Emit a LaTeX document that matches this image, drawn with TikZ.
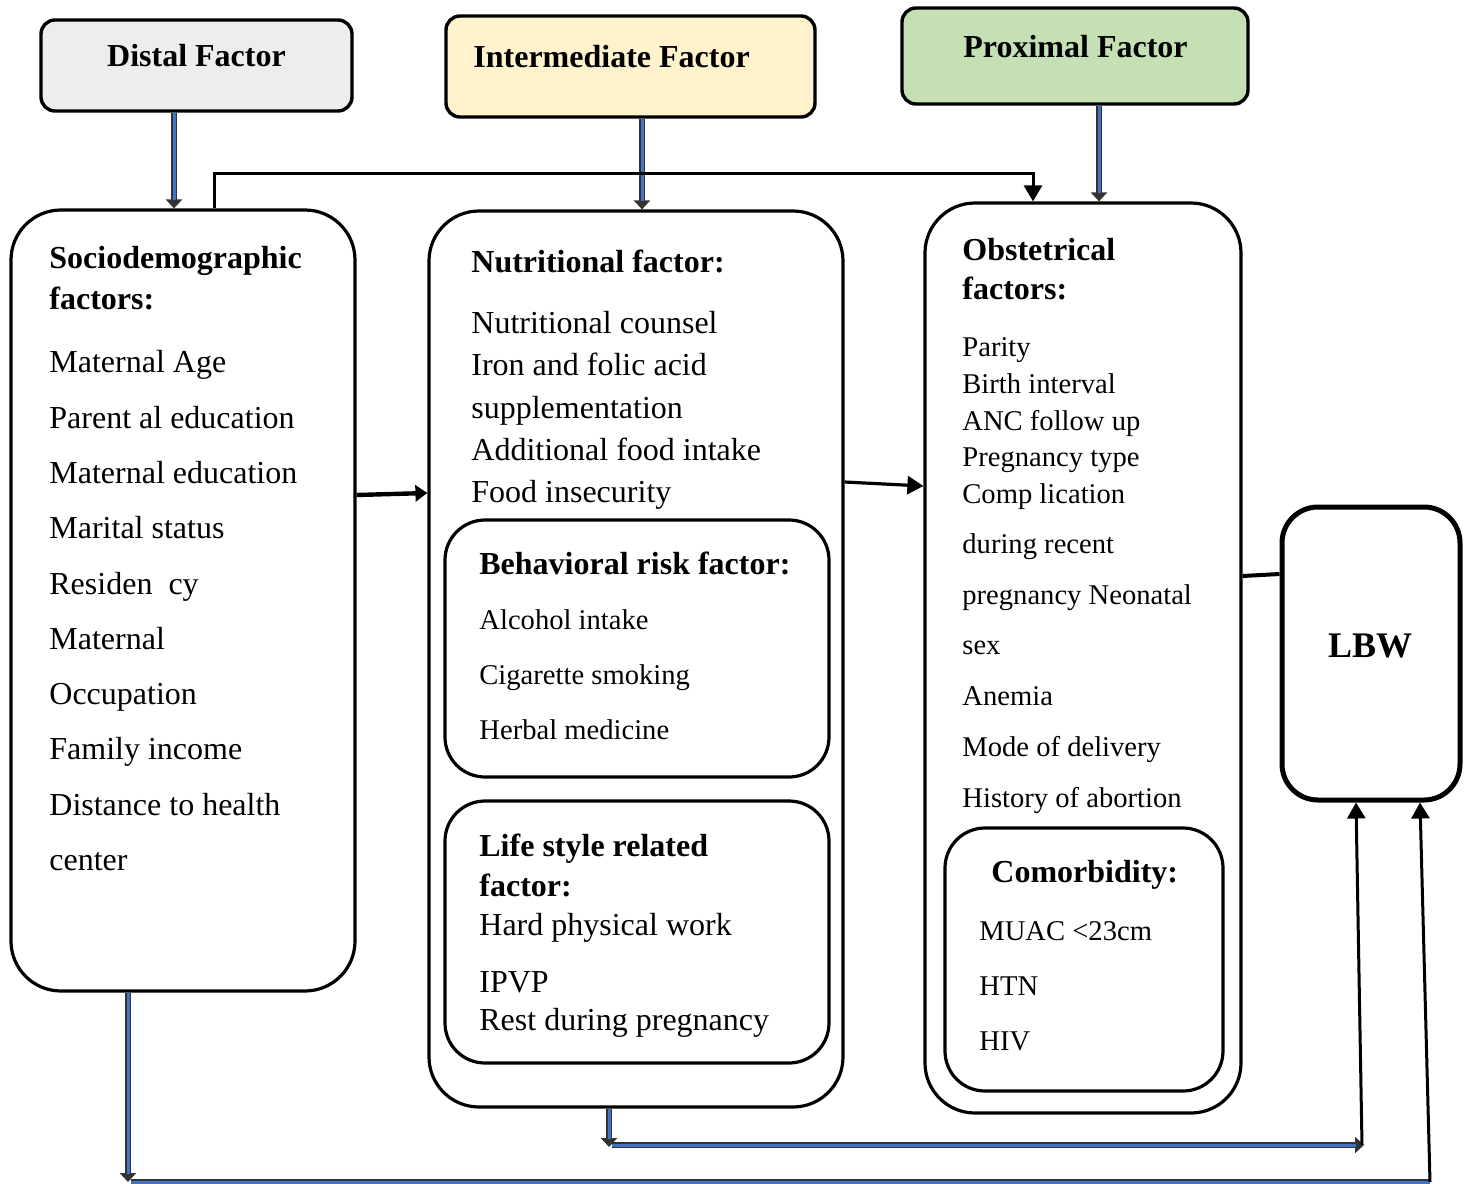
\documentclass[tikz,border=0pt]{standalone}
\usepackage{fontspec}
\setmainfont{Liberation Serif}
\usetikzlibrary{arrows.meta}
\definecolor{cblue}{HTML}{4472C4}
\definecolor{cgray}{HTML}{EDEDED}
\definecolor{cyellow}{HTML}{FFF2CC}
\definecolor{cgreen}{HTML}{C5E0B4}
\begin{document}
\begin{tikzpicture}[x=0.5pt,y=-0.5pt,
 topbox/.style={draw, line width=1.7pt, rounded corners=7pt, inner sep=0pt},
 bigbox/.style={draw, line width=1.6pt, rounded corners=25pt, inner sep=0pt},
 inbox/.style={draw, line width=1.6pt, rounded corners=20pt, inner sep=0pt},
 txt/.style={anchor=base west, inner sep=0pt, font=\fontsize{16}{19}\selectfont},
 stxt/.style={anchor=base west, inner sep=0pt, font=\fontsize{14.3}{17}\selectfont},
 htxt/.style={anchor=base west, inner sep=0pt, font=\fontsize{16}{19}\selectfont\bfseries},
 bconn/.style={draw=cblue, line width=1.5pt, shorten >=4pt,
   preaction={draw=black!80, line width=3pt, shorten >=0pt, -{Triangle[width=8pt,length=4.5pt]}}},
 bline/.style={draw=cblue, line width=1.5pt,
   preaction={draw=black!80, line width=3pt}},
 kconn/.style={draw=black, line width=1.6pt, -{Triangle[width=9pt,length=8pt]}},
]
\useasboundingbox (0,0) rectangle (1468,1184);

% top factor boxes
\node[topbox, fill=cgray, minimum width=155.5pt, minimum height=45.5pt] (distal) at (196.5,65.5) {};
\node[htxt, anchor=center] (distalt) at (196.5,56) {Distal Factor};
\node[topbox, fill=cyellow, minimum width=184.5pt, minimum height=50.5pt] (inter) at (630.5,66.5) {};
\node[htxt, anchor=base west] (intert) at (473,67) {Intermediate Factor};
\node[topbox, fill=cgreen, minimum width=173pt, minimum height=48pt] (prox) at (1075,56) {};
\node[htxt, anchor=base west] (proxt) at (963,57) {Proximal Factor};

% main boxes
\node[bigbox, minimum width=172pt, minimum height=390.5pt] (soc) at (183,600.5) {};
\node[bigbox, minimum width=207pt, minimum height=448pt] (mid) at (636,659) {};
\node[inbox, minimum width=192pt, minimum height=128.5pt] (beh) at (637,648.5) {};
\node[inbox, minimum width=192pt, minimum height=131pt] (life) at (637,932) {};
\node[bigbox, minimum width=158pt, minimum height=455pt] (obs) at (1083,658) {};
\node[inbox, minimum width=139pt, minimum height=131.5pt] (com) at (1084,959.5) {};
\node[draw, line width=2.5pt, rounded corners=18pt, minimum width=89pt, minimum height=146.5pt] (lbw) at (1371,653.5) {};
\node[anchor=center, inner sep=0pt, font=\fontsize{18}{21}\selectfont\bfseries] (lbwt) at (1370,646) {LBW};

% sociodemographic text
\node[htxt] (sh1) at (49,268) {Sociodemographic};
\node[htxt] (sh2) at (49,309) {factors:};
\foreach \yy/\tt [count=\i] in {372/Maternal Age, 428/Parent al education, 483/Maternal education,
  538/Marital status, 594/Residen\ \ cy, 649/Maternal, 704/Occupation, 759/Family income,
  815/Distance to health, 870/center}
  \node[txt] (s\i) at (49,\yy) {\tt};

% nutritional
\node[htxt] (nh) at (471,272) {Nutritional factor:};
\foreach \yy/\tt [count=\i] in {333/Nutritional counsel, 375/Iron and folic acid, 418/supplementation,
  460/Additional food intake, 502/Food insecurity}
  \node[txt] (n\i) at (471,\yy) {\tt};

% behavioral
\node[htxt] (bh) at (479,574) {Behavioral risk factor:};
\foreach \yy/\tt [count=\i] in {629/Alcohol intake, 684/Cigarette smoking, 739/Herbal medicine}
  \node[stxt] (b\i) at (479,\yy) {\tt};

% life style
\node[htxt] (lh1) at (479,856) {Life style related};
\node[htxt] (lh2) at (479,896) {factor:};
\foreach \yy/\tt [count=\i] in {935/Hard physical work, 992/IPVP, 1030/Rest during pregnancy}
  \node[txt] (l\i) at (479,\yy) {\tt};

% obstetrical
\node[htxt] (oh1) at (962,260) {Obstetrical};
\node[htxt] (oh2) at (962,299) {factors:};
\foreach \yy/\tt [count=\i] in {356/Parity, 393/Birth interval, 430/ANC follow up, 466/Pregnancy type,
  503/Comp lication, 553/during recent, 604/pregnancy Neonatal, 654/sex, 705/Anemia,
  756/Mode of delivery, 807/History of abortion}
  \node[stxt] (o\i) at (962,\yy) {\tt};

% comorbidity
\node[htxt] (ch) at (991,882) {Comorbidity:};
\foreach \yy/\tt [count=\i] in {940/MUAC <23cm, 995/HTN, 1050/HIV}
  \node[stxt] (c\i) at (979,\yy) {\tt};

% blue connectors from top boxes
\draw[bconn] (174,0 |- distal.south) -- (174,0 |- soc.north);
\draw[bconn] (642,0 |- inter.south) -- (642,0 |- mid.north);
\draw[bconn] (1099,0 |- prox.south) -- (1099,0 |- obs.north);

% black connector over the top
\draw[draw=black, line width=1.5pt, -{Triangle[width=9pt,length=8pt]}]
  (214,0 |- soc.north) -- (214,173) -- (1033,173) -- (1033,0 |- obs.north);

% horizontal connectors between boxes
\draw[draw=black, line width=2.2pt, -{Triangle[width=8pt,length=6pt]}] (soc.east |- 0,495) -- (mid.west |- 0,493);
\draw[kconn] (mid.east |- 0,482) -- (obs.west |- 0,486);
\draw[draw=black, line width=2pt] (obs.east |- 0,576) -- (lbw.west |- 0,574);

% bottom connectors
\coordinate (m1) at (609,1147);
\coordinate (m2) at (612,1145);
\coordinate (m3) at (1364,1145);
\coordinate (s1) at (128,1182);
\coordinate (s2) at (131,1182);
\coordinate (s3) at (1430,1182);
\draw[bconn] (609,0 |- mid.south) -- (m1);
\draw[bconn] (m2) -- (m3);
\draw[kconn, line width=1.5pt] (1362,1145) -- (1356,0 |- lbw.south);
\draw[bconn] (128,0 |- soc.south) -- (s1);
\draw[bline] (s2) -- (s3);
\draw[kconn, line width=1.5pt] (s3) -- (1420,0 |- lbw.south);
\end{tikzpicture}
\end{document}
